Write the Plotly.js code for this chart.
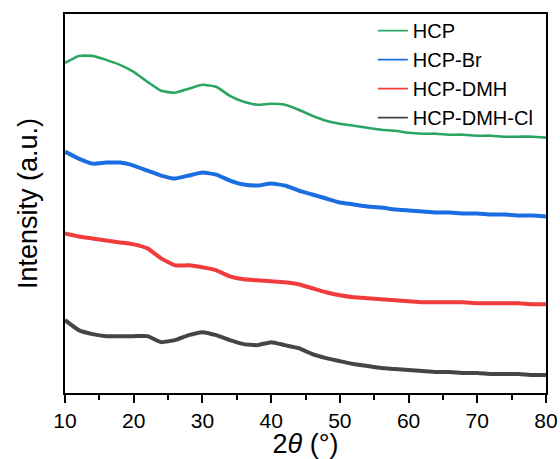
<!DOCTYPE html>
<html><head><meta charset="utf-8">
<script src="https://cdn.plot.ly/plotly-3.0.1.min.js"></script>
<style>html,body{margin:0;padding:0;background:#fff}#chart{width:560px;height:459px}</style>
</head><body><div id="chart"></div>
<script>
const twoTheta = [10,12,14,16,18,20,22,24,26,28,30,32,34,36,38,40,42,44,46,48,50,52,54,56,58,60,62,64,66,68,70,72,74,76,78,80];
const hcp = [331,338,338,334,329,322,312,303,301,305,309,307,298,292,289,290,289,284,278,273,270,268,266,264,263,261,260,260,259,259,258,258,257,257,257,256];
const hcpBr = [242,235,230,231,231,228,223,218,215,218,221,219,213,209,208,210,208,203,199,195,191,189,187,186,184,183,182,181,181,180,180,179,179,178,178,177];
const hcpDmh = [160,157,155,153,151,149,145,135,128,128,126,123,117,114,113,112,111,109,105,101,98,96,95,94,93,92,91,91,91,91,90,90,90,90,89,89];
const hcpDmhCl = [73,63,59,57,57,57,57,51,53,58,61,58,53,49,48,51,48,45,39,35,32,29,27,25,24,23,22,21,21,20,20,19,19,19,18,18];
const names = ["HCP","HCP-Br","HCP-DMH","HCP-DMH-Cl"];
const colors = ["#2ca562","#1a6ee0","#f03c3c","#454545"];
const widths = [2.6,4,4,4];
const series = [hcp,hcpBr,hcpDmh,hcpDmhCl];
const traces = series.map((s,i)=>({x:twoTheta,y:s,type:'scatter',mode:'lines',name:names[i],showlegend:false,
  line:{color:colors[i],width:widths[i],shape:'spline',smoothing:0.4}}));
const legendTraces = names.map((n,i)=>({x:[null],y:[null],type:'scatter',mode:'lines',name:n,
  line:{color:colors[i],width:1.6}}));
const layout = {
  width:560,height:459,
  margin:{l:65,r:14,t:13,b:66},
  paper_bgcolor:'#fff',plot_bgcolor:'#fff',
  font:{family:'Liberation Sans, Arial, sans-serif',color:'#000'},
  showlegend:true,
  legend:{x:0.64,y:1.005,xanchor:'left',yanchor:'top',bgcolor:'rgba(0,0,0,0)',font:{size:20},tracegroupgap:0},
  xaxis:{range:[10,80],dtick:10,tick0:10,showline:true,linewidth:2,linecolor:'#000',mirror:true,
    ticks:'outside',ticklen:8,tickwidth:2,tickcolor:'#000',showgrid:false,zeroline:false,
    minor:{dtick:5,ticks:'outside',ticklen:5,tickwidth:2,tickcolor:'#000',showgrid:false},
    tickfont:{size:21},
    title:{text:'2<i>θ</i> (°)',font:{size:27},standoff:0}},
  yaxis:{range:[0,380],showline:true,linewidth:2,linecolor:'#000',mirror:true,ticks:'',
    showticklabels:false,showgrid:false,zeroline:false,
    title:{text:'Intensity (a.u.)',font:{size:27},standoff:18}}
};
Plotly.newPlot('chart',traces.concat(legendTraces),layout,{displayModeBar:false,staticPlot:true});
</script></body></html>
